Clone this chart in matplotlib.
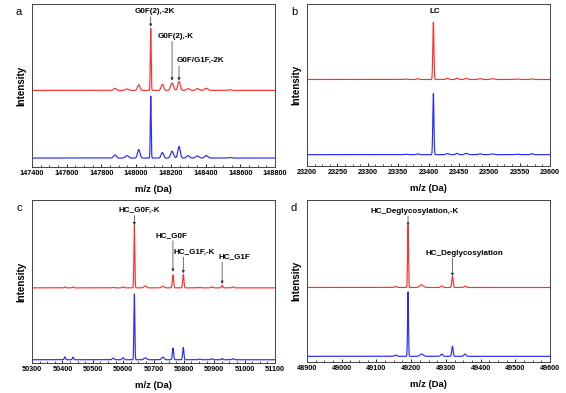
import numpy as np
import matplotlib.pyplot as plt
from matplotlib.ticker import MultipleLocator

plt.rcParams['font.family'] = ['Liberation Sans', 'DejaVu Sans']

RED = '#ff3030'
BLUE = '#2a2aff'

# panel a: intact mass
a_pos = [147878, 147947, 148015, 148084, 148151, 148207, 148247, 148299, 148353, 148404, 148539]
a_wid = [8, 9, 7, 2.5, 7, 8, 7, 8, 9, 9, 9]
a_red = [0.013, 0.009, 0.035, 0.38, 0.038, 0.045, 0.055, 0.011, 0.011, 0.013, 0.004]
a_blue = [0.019, 0.015, 0.052, 0.38, 0.034, 0.042, 0.071, 0.015, 0.013, 0.015, 0.003]

# panel b: light chain
b_pos = [23363, 23382, 23408, 23431, 23447, 23462, 23485, 23505, 23545, 23570]
b_wid = [2, 2, 0.9, 2, 2, 2.5, 2.5, 2.5, 3, 2]
b_red = [0.003, 0.005, 0.353, 0.007, 0.008, 0.007, 0.005, 0.005, 0.003, 0.004]
b_blue = [0.003, 0.005, 0.377, 0.007, 0.008, 0.008, 0.005, 0.005, 0.003, 0.006]

# panel c: heavy chain
c_pos = [50408, 50435, 50567, 50600, 50637, 50673, 50731, 50764, 50798, 50852, 50892, 50926, 50962]
c_wid = [2, 2, 3, 3, 1.5, 4, 4, 2, 2, 3, 3, 2, 3]
c_red = [0.006, 0.006, 0.003, 0.006, 0.383, 0.012, 0.01, 0.08, 0.082, 0.003, 0.006, 0.016, 0.006]
c_blue = [0.018, 0.016, 0.01, 0.012, 0.404, 0.012, 0.016, 0.072, 0.076, 0.004, 0.006, 0.008, 0.006]

# panel d: deglycosylated heavy chain
d_pos = [49155, 49191, 49230, 49288, 49319, 49355]
d_wid = [3, 1.3, 5, 3, 2, 3]
d_red = [0.006, 0.38, 0.016, 0.01, 0.068, 0.008]
d_blue = [0.008, 0.398, 0.014, 0.014, 0.062, 0.014]

panels = [
    dict(letter='a', xlim=(147400, 148800), step=200, pos=a_pos, wid=a_wid,
         red=a_red, blue=a_blue, base=(0.47, 0.055),
         notes=[('G0F(2),-2K', 148084, 0.93, 0.86),
                ('G0F(2),-K', 148207, 0.78, 0.53),
                ('G0F/G1F,-2K', 148247, 0.63, 0.53)],
         text_x=[148108, 148230, 148372]),
    dict(letter='b', xlim=(23200, 23600), step=50, pos=b_pos, wid=b_wid,
         red=b_red, blue=b_blue, base=(0.534, 0.07),
         notes=[('LC', 23408, 0.93, None)], text_x=[23410]),
    dict(letter='c', xlim=(50300, 51100), step=100, pos=c_pos, wid=c_wid,
         red=c_red, blue=c_blue, base=(0.461, 0.02),
         notes=[('HC_G0F,-K', 50637, 0.915, 0.845),
                ('HC_G0F', 50764, 0.76, 0.56),
                ('HC_G1F,-K', 50798, 0.66, 0.55),
                ('HC_G1F', 50926, 0.63, 0.485)],
         text_x=[50652, 50758, 50835, 50965]),
    dict(letter='d', xlim=(48900, 49600), step=100, pos=d_pos, wid=d_wid,
         red=d_red, blue=d_blue, base=(0.46, 0.035),
         notes=[('HC_Deglycosylation,-K', 49191, 0.91, 0.84),
                ('HC_Deglycosylation', 49319, 0.65, 0.53)],
         text_x=[49210, 49354]),
]

boxes = [(32, 4, 275, 167), (307, 4, 550, 166), (32, 200, 275, 363), (307, 200, 550, 362)]
W, H = 566, 393

fig = plt.figure(figsize=(W / 100, H / 100), dpi=100)

for p, (x0, y0, x1, y1) in zip(panels, boxes):
    ax = fig.add_axes([x0 / W, 1 - y1 / H, (x1 - x0) / W, (y1 - y0) / H])
    x = np.linspace(p['xlim'][0], p['xlim'][1], 6000)
    for heights, base, col in [(p['red'], p['base'][0], RED), (p['blue'], p['base'][1], BLUE)]:
        y = np.full_like(x, base)
        for c0, w, h in zip(p['pos'], p['wid'], heights):
            y += h * np.exp(-0.5 * ((x - c0) / w) ** 2)
        ax.plot(x, y, color=col, lw=0.85)
    ax.set_xlim(*p['xlim'])
    ax.set_ylim(0, 1)
    ax.set_yticks([])
    ax.xaxis.set_major_locator(MultipleLocator(p['step']))
    ax.xaxis.set_minor_locator(MultipleLocator(p['step'] / 4))
    ax.tick_params(axis='x', which='major', direction='in', length=2.5, width=0.6,
                   labelsize=5.2, pad=2)
    ax.tick_params(axis='x', which='minor', direction='in', length=1.5, width=0.5)
    for lab in ax.get_xticklabels():
        lab.set_fontweight('bold')
    for s in ax.spines.values():
        s.set_linewidth(0.7)
        s.set_color('#444444')
    ax.set_xlabel('m/z (Da)', fontsize=6.8, fontweight='bold', labelpad=6)
    ax.set_ylabel('Intensity', fontsize=7, fontweight='bold', labelpad=4)
    ax.text(-0.053, 0.95, p['letter'], transform=ax.transAxes, fontsize=8,
            va='center', ha='center')
    for (txt, px, ty, tip), tx in zip(p['notes'], p['text_x']):
        ax.text(tx, ty, txt, fontsize=5.8, fontweight='bold', ha='center', va='bottom')
        if tip is not None:
            ax.annotate('', xy=(px, tip), xytext=(px, ty - 0.01),
                        arrowprops=dict(arrowstyle='-|>', color='#333333', lw=0.5,
                                        mutation_scale=4, shrinkA=0, shrinkB=0))

fig.savefig('out.png', dpi=100)
